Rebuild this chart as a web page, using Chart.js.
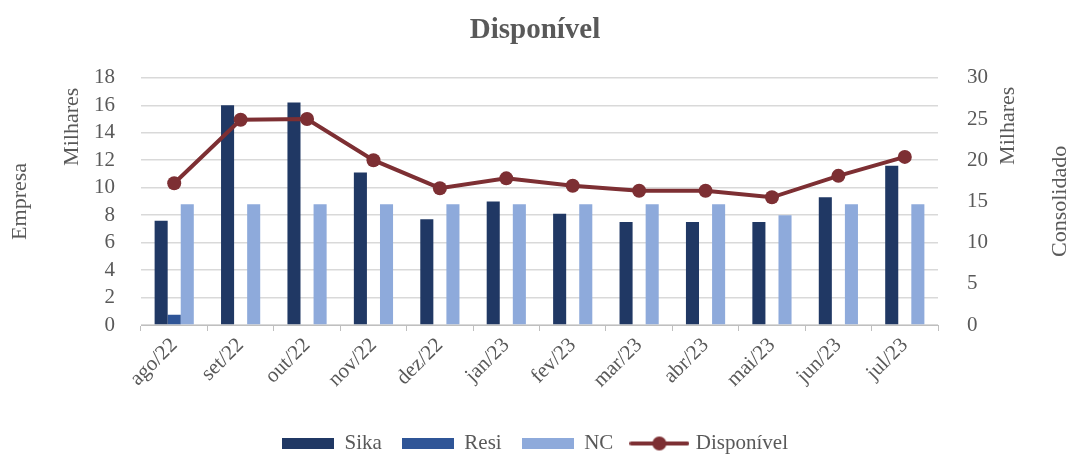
<!DOCTYPE html>
<html>
<head>
<meta charset="utf-8">
<script src="https://cdn.jsdelivr.net/npm/chart.js@4.4.0/dist/chart.umd.min.js"></script>
<style>
  html, body { margin: 0; padding: 0; background: #fff; }
  #wrap { width: 1070px; height: 459px; }
</style>
</head>
<body>
<div id="wrap"><canvas id="dispChart"></canvas></div>
<script>
// values in thousands
const months = ['ago/22', 'set/22', 'out/22', 'nov/22', 'dez/22', 'jan/23', 'fev/23', 'mar/23', 'abr/23', 'mai/23', 'jun/23', 'jul/23'];
const sika = [7.6, 16.0, 16.2, 11.1, 7.7, 9.0, 8.1, 7.5, 7.5, 7.5, 9.3, 11.6];
const resi = [0.75, 0, 0, 0, 0, 0, 0, 0, 0, 0, 0, 0];
const nc = [8.8, 8.8, 8.8, 8.8, 8.8, 8.8, 8.8, 8.8, 8.8, 8.0, 8.8, 8.8];
const disponivel = [17.2, 24.9, 25.0, 20.0, 16.6, 17.8, 16.9, 16.3, 16.3, 15.5, 18.1, 20.4];

const textColor = '#595959';
const fontFamily = "'Liberation Serif', 'DejaVu Serif', serif";
const colSika = '#203864';
const colResi = '#2f5597';
const colNC = '#8eaadb';
const colLine = '#7d2f33';

Chart.defaults.font.family = fontFamily;
Chart.defaults.color = textColor;

// legend swatches
const makeBox = (color) => {
  const c = document.createElement('canvas');
  c.width = 52; c.height = 11;
  const g = c.getContext('2d');
  g.fillStyle = color;
  g.fillRect(0, 0, 52, 11);
  return c;
};
const makeLineMarker = () => {
  const c = document.createElement('canvas');
  c.width = 60; c.height = 16;
  const g = c.getContext('2d');
  g.strokeStyle = colLine;
  g.lineWidth = 4;
  g.lineCap = 'round';
  g.beginPath(); g.moveTo(2, 8); g.lineTo(58, 8); g.stroke();
  g.fillStyle = colLine;
  g.beginPath(); g.arc(30, 8, 7, 0, Math.PI * 2); g.fill();
  return c;
};
const legendIcons = [makeBox(colSika), makeBox(colResi), makeBox(colNC), makeLineMarker()];

// rotated side titles (Empresa / Milhares / Consolidado)
const sideTitles = {
  id: 'sideTitles',
  afterLayout(chart) {
    chart.legend.top += 5;
    chart.legend.bottom += 5;
  },
  afterDraw(chart) {
    const { ctx, chartArea } = chart;
    const midY = (chartArea.top + chartArea.bottom) / 2;
    const put = (text, x, y) => {
      ctx.save();
      ctx.translate(x, y);
      ctx.rotate(-Math.PI / 2);
      ctx.fillText(text, 0, 0);
      ctx.restore();
    };
    ctx.save();
    ctx.fillStyle = textColor;
    ctx.font = '22px ' + fontFamily;
    ctx.textAlign = 'center';
    ctx.textBaseline = 'middle';
    put('Empresa', chartArea.left - 121, midY);
    put('Milhares', chartArea.left - 69, chartArea.top + 49);
    put('Milhares', chartArea.right + 70, chartArea.top + 48);
    put('Consolidado', chartArea.right + 122, midY);
    ctx.restore();
  }
};

const ctx = document.getElementById('dispChart').getContext('2d');
const chart = new Chart(ctx, {
  type: 'bar',
  data: {
    labels: months,
    datasets: [
      { label: 'Sika', data: sika, backgroundColor: colSika, yAxisID: 'y', order: 1 },
      { label: 'Resi', data: resi, backgroundColor: colResi, yAxisID: 'y', order: 1 },
      { label: 'NC', data: nc, backgroundColor: colNC, yAxisID: 'y', order: 1 },
      {
        type: 'line',
        label: 'Disponível',
        data: disponivel,
        yAxisID: 'y2',
        order: 0,
        borderColor: colLine,
        backgroundColor: colLine,
        borderWidth: 4,
        pointRadius: 7,
        pointBackgroundColor: colLine,
        pointBorderWidth: 0,
        tension: 0
      }
    ]
  },
  options: {
    responsive: true,
    maintainAspectRatio: false,
    animation: false,
    datasets: {
      bar: { categoryPercentage: 0.59, barPercentage: 1.0 }
    },
    layout: { padding: { left: 0, right: 0, top: 0, bottom: 0 } },
    scales: {
      x: {
        offset: true,
        afterFit: (s) => { s.height = 83; },
        grid: {
          offset: true,
          drawOnChartArea: false,
          drawTicks: true,
          tickLength: 6,
          color: '#bfbfbf'
        },
        border: { display: true, color: '#bfbfbf', width: 1 },
        ticks: {
          color: textColor,
          font: { family: fontFamily, size: 21 },
          minRotation: 45,
          maxRotation: 45,
          autoSkip: false,
          padding: 2
        }
      },
      y: {
        position: 'left',
        min: 0,
        max: 18,
        afterFit: (s) => { s.width = 141; },
        grid: { color: '#d9d9d9', lineWidth: 1.5, drawTicks: false },
        border: { display: false },
        ticks: {
          stepSize: 2,
          autoSkip: false,
          maxTicksLimit: 20,
          color: textColor,
          font: { family: fontFamily, size: 21 },
          padding: 26
        }
      },
      y2: {
        position: 'right',
        min: 0,
        max: 30,
        afterFit: (s) => { s.width = 132; },
        grid: { display: false },
        border: { display: false },
        ticks: {
          stepSize: 5,
          autoSkip: false,
          color: textColor,
          font: { family: fontFamily, size: 21 },
          padding: 21
        }
      }
    },
    plugins: {
      title: {
        display: true,
        text: 'Disponível',
        color: textColor,
        font: { family: fontFamily, size: 29, weight: 'bold' },
        padding: { top: 13, bottom: 30 }
      },
      legend: {
        position: 'bottom',
        labels: {
          color: textColor,
          font: { family: fontFamily, size: 21 },
          usePointStyle: true,
          pointStyleWidth: 52,
          boxHeight: 11,
          padding: 20,
          sort: (a, b) => a.datasetIndex - b.datasetIndex,
          generateLabels: (ch) => {
            const items = Chart.defaults.plugins.legend.labels.generateLabels(ch);
            items.forEach(it => { it.pointStyle = legendIcons[it.datasetIndex]; });
            return items;
          }
        }
      },
      tooltip: { enabled: false }
    }
  },
  plugins: [sideTitles]
});
</script>
</body>
</html>
